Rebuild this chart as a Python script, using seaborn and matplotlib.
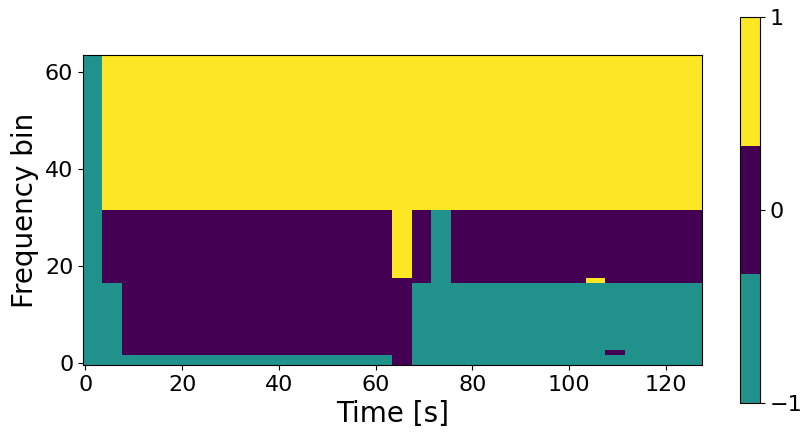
import numpy as np
import pandas as pd
import matplotlib
matplotlib.use("Agg")
import matplotlib.pyplot as plt
from matplotlib.colors import ListedColormap
import seaborn as sns

# ---- data ----
n_time = 128
n_freq = 64
# column groups (start, stop) along time
group_start = [0, 4, 8, 64, 68, 72, 76]
group_stop = [4, 8, 64, 68, 72, 76, 128]
# per group: runs of (row_start, row_stop, value)
group_runs = [
    [(0, 64, -1)],
    [(0, 17, -1), (17, 32, 0), (32, 64, 1)],
    [(0, 2, -1), (2, 32, 0), (32, 64, 1)],
    [(0, 18, 0), (18, 64, 1)],
    [(0, 17, -1), (17, 32, 0), (32, 64, 1)],
    [(0, 32, -1), (32, 64, 1)],
    [(0, 17, -1), (17, 32, 0), (32, 64, 1)],
]
# isolated patches: (time_start, time_stop, freq_row, value)
patch_t0 = [104, 108]
patch_t1 = [108, 112]
patch_row = [17, 2]
patch_val = [1, 0]

x_ticks = [0, 20, 40, 60, 80, 100, 120]
y_ticks = [0, 20, 40, 60]
cbar_ticks = [-1, 0, 1]

grid = np.zeros((n_freq, n_time))
for s, e, runs in zip(group_start, group_stop, group_runs):
    for r0, r1, v in runs:
        grid[r0:r1, s:e] = v
for t0, t1, r, v in zip(patch_t0, patch_t1, patch_row, patch_val):
    grid[r, t0:t1] = v
df = pd.DataFrame(grid)

cmap = ListedColormap(["#21918c", "#440154", "#fde725"])

fig = plt.figure(figsize=(8.12, 4.38), dpi=100)
ax = fig.add_axes([0.1022, 0.1667, 0.7623, 0.7078])
cax = fig.add_axes([0.9113, 0.0799, 0.0246, 0.8813])

sns.heatmap(df, ax=ax, cmap=cmap, vmin=-1, vmax=1, cbar=False,
            xticklabels=False, yticklabels=False)
ax.set_xlim(0, n_time)
ax.set_ylim(0, n_freq)
ax.set_xticks(np.array(x_ticks) + 0.5)
ax.set_xticklabels([str(t) for t in x_ticks], rotation=0)
ax.set_yticks(np.array(y_ticks) + 0.5)
ax.set_yticklabels([str(t) for t in y_ticks], rotation=0)
ax.tick_params(length=3.5, width=0.8, labelsize=16, direction="out")
for sp in ax.spines.values():
    sp.set_visible(True)
    sp.set_color("black")
    sp.set_linewidth(0.8)
ax.set_xlabel("Time [s]", fontsize=20)
ax.set_ylabel("Frequency bin", fontsize=20)

cb = fig.colorbar(ax.collections[0], cax=cax, ticks=cbar_ticks)
cb.ax.tick_params(labelsize=16, length=3.5, width=0.8)
cb.ax.set_yticklabels(["\u22121", "0", "1"])
cb.outline.set_linewidth(0.8)

fig.savefig("out.png", dpi=100)
